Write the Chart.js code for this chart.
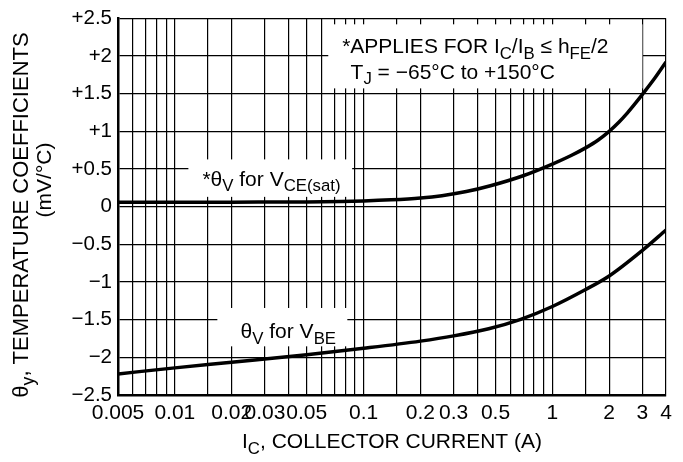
<!DOCTYPE html>
<html><head><meta charset="utf-8">
<script src="https://cdn.jsdelivr.net/npm/chart.js@4/dist/chart.umd.min.js"></script>
<style>html,body{margin:0;padding:0;background:#fff}#wrap{width:683px;height:462px}</style>
</head><body><div id="wrap"><canvas id="c" width="683" height="462"></canvas></div>
<script>
// ---- data ----
const vceCurrentA = [0.005, 0.01, 0.02, 0.05, 0.075, 0.1, 0.14, 0.2, 0.26, 0.35, 0.47, 0.7, 1, 1.25, 1.5, 1.75, 2, 2.25, 2.5, 2.75, 3, 3.5, 4];
const vceSatCoeff = [0.06, 0.06, 0.06, 0.062, 0.068, 0.075, 0.09, 0.115, 0.146, 0.2, 0.277, 0.41, 0.565, 0.675, 0.78, 0.885, 1.0, 1.12, 1.245, 1.37, 1.49, 1.71, 1.92];
const vbeCurrentA = [0.005, 0.01, 0.02, 0.05, 0.1, 0.2, 0.3, 0.46, 0.68, 1.0, 1.5, 2.0, 3.0, 4.0];
const vbeCoeff    = [-2.22, -2.14, -2.065, -1.965, -1.88, -1.785, -1.715, -1.62, -1.495, -1.325, -1.10, -0.92, -0.58, -0.31];
const xGridValues = [0.005,0.006,0.007,0.008,0.009,0.01,0.015,0.02,0.03,0.04,0.05,0.06,0.07,0.08,0.09,0.1,0.15,0.2,0.3,0.4,0.5,0.6,0.7,0.8,0.9,1,1.5,2,3,4];
const xTickLabels = ['0.005','0.01','0.02','0.03','0.05','0.1','0.2','0.3','0.5','1','2','3','4'];
const yTickValues = [-2.5,-2,-1.5,-1,-0.5,0,0.5,1,1.5,2,2.5];
const yTickLabels = ['\u22122.5','\u22122','\u22121.5','\u22121','\u22120.5','0','+0.5','+1','+1.5','+2','+2.5'];

const FONT = '"Liberation Sans", Arial, Helvetica, sans-serif';
const FS = 21;

function drawRich(ctx, segs, x, y, size, align) {
  let w = 0;
  const parts = segs.map(s => {
    const fs = s.sub ? size * 0.8 : size;
    ctx.font = fs + 'px ' + FONT;
    const m = ctx.measureText(s.t).width;
    w += m;
    return { s, fs, m };
  });
  let cx = align === 'center' ? x - w / 2 : x;
  ctx.textAlign = 'left';
  ctx.textBaseline = 'alphabetic';
  for (const p of parts) {
    ctx.font = p.fs + 'px ' + FONT;
    ctx.fillText(p.s.t, cx, y + (p.s.sub ? size * 0.28 : 0));
    cx += p.m;
  }
  return w;
}

const notes = [
  { box: [0.065, 3.0, 2.42, 1.57], lines: [
      { x: 0.077, y: 2.04, segs: [{t:'*APPLIES FOR I'},{t:'C',sub:1},{t:'/I'},{t:'B',sub:1},{t:' \u2264 h'},{t:'FE',sub:1},{t:'/2'}] },
      { x: 0.0853, y: 1.70, segs: [{t:'T'},{t:'J',sub:1},{t:' = \u221265\u00B0C to +150\u00B0C'}] } ] },
  { box: [0.0118, 0.087, 0.627, 0.13], lines: [
      { x: 0.0140, y: 0.28, segs: [{t:'*\u03B8'},{t:'V',sub:1},{t:' for V'},{t:'CE(sat)',sub:1}] } ] },
  { box: [0.0168, 0.082, -1.345, -1.854], lines: [
      { x: 0.0223, y: -1.745, segs: [{t:'\u03B8'},{t:'V',sub:1},{t:' for V'},{t:'BE',sub:1}] } ] }
];

const notesPlugin = {
  id: 'notes',
  beforeDatasetsDraw(chart) {
    const ctx = chart.ctx, xs = chart.scales.x, ys = chart.scales.y;
    ctx.save();
    for (const n of notes) {
      const x0 = xs.getPixelForValue(n.box[0]), x1 = xs.getPixelForValue(n.box[1]);
      const y0 = ys.getPixelForValue(n.box[2]), y1 = ys.getPixelForValue(n.box[3]);
      ctx.fillStyle = '#fff';
      ctx.fillRect(x0, y0, x1 - x0, y1 - y0);
      ctx.fillStyle = '#000';
      for (const l of n.lines) drawRich(ctx, l.segs, xs.getPixelForValue(l.x), ys.getPixelForValue(l.y), FS, 'left');
    }
    ctx.restore();
  },
  afterDraw(chart) {
    const ctx = chart.ctx, a = chart.chartArea;
    ctx.save();
    ctx.fillStyle = '#000';
    drawRich(ctx, [{t:'I'},{t:'C',sub:1},{t:', COLLECTOR CURRENT (A)'}], (a.left + a.right) / 2, 448, FS, 'center');
    ctx.translate(28, 215);
    ctx.rotate(-Math.PI / 2);
    drawRich(ctx, [{t:'\u03B8'},{t:'y',sub:1},{t:', TEMPERATURE COEFFICIENTS'}], 0, 0, 22, 'center');
    ctx.restore();
    ctx.save();
    ctx.fillStyle = '#000';
    ctx.translate(51, 180);
    ctx.rotate(-Math.PI / 2);
    drawRich(ctx, [{t:'(mV/\u00B0C)'}], 0, 0, FS, 'center');
    ctx.restore();
  }
};

const toXY = (xs, ys) => xs.map((x, i) => ({ x, y: ys[i] }));

new Chart(document.getElementById('c'), {
  type: 'line',
  data: { datasets: [
    { label: 'VCE(sat)', data: toXY(vceCurrentA, vceSatCoeff), borderColor: '#000', borderWidth: 3.5, pointRadius: 0, fill: false, cubicInterpolationMode: 'monotone' },
    { label: 'VBE', data: toXY(vbeCurrentA, vbeCoeff), borderColor: '#000', borderWidth: 3.5, pointRadius: 0, fill: false, cubicInterpolationMode: 'monotone' }
  ] },
  options: {
    responsive: false, animation: false, devicePixelRatio: 1,
    layout: { padding: { left: 0, right: 17, top: 12, bottom: 0 } },
    plugins: { legend: { display: false }, tooltip: { enabled: false } },
    scales: {
      x: {
        type: 'logarithmic', min: 0.005, max: 4,
        afterBuildTicks: s => { s.ticks = xGridValues.map(v => ({ value: v })); },
        afterFit: s => { s.height = 67; },
        ticks: {
          autoSkip: false, maxRotation: 0, minRotation: 0, padding: 6, color: '#000',
          font: { family: FONT, size: FS },
          callback: v => { const k = xTickLabels.indexOf(String(v)); return k >= 0 ? xTickLabels[k] : ''; }
        },
        grid: { color: '#000', lineWidth: 1.2, drawTicks: false },
        border: { color: '#000', width: 2.5 }
      },
      y: {
        type: 'linear', min: -2.5, max: 2.5,
        afterBuildTicks: s => { s.ticks = yTickValues.map(v => ({ value: v })); },
        afterFit: s => { s.width = 118; },
        ticks: {
          padding: 6, color: '#000', font: { family: FONT, size: 20.5 },
          callback: (v, i) => yTickLabels[i]
        },
        grid: { color: '#000', lineWidth: 1.2, drawTicks: false },
        border: { color: '#000', width: 2.5 }
      }
    }
  },
  plugins: [notesPlugin]
});
</script>
</body></html>
